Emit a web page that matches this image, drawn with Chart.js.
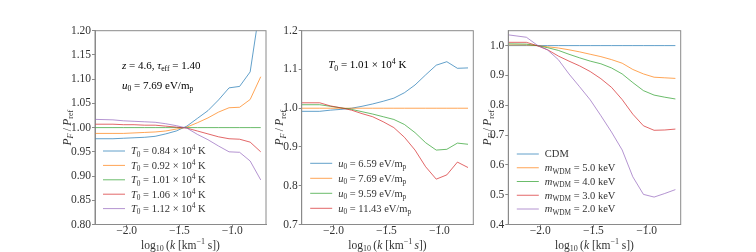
<!DOCTYPE html>
<html lang="en">
<head>
<meta charset="UTF-8">
<title>Flux power ratios</title>
<script src="https://cdn.jsdelivr.net/npm/chart.js"></script>
<style>
    * { margin: 0; padding: 0; box-sizing: border-box; }
    body { width: 756px; height: 252px; background: #fff; position: relative; overflow: hidden; }
    .panel { position: absolute; top: 0; }
    .panel canvas { display: block; }
</style>
</head>
<body>
<div class="panel" style="left:35px"><canvas id="c1" width="235" height="252"></canvas></div>
<div class="panel" style="left:241px"><canvas id="c2" width="236" height="252"></canvas></div>
<div class="panel" style="left:448px"><canvas id="c3" width="237" height="252"></canvas></div>

<script>
// ---- data ----
const logK = [-2.3, -2.13, -2.03, -1.93, -1.83, -1.73, -1.63, -1.53, -1.43, -1.33, -1.23, -1.13, -1.03, -0.93, -0.83, -0.73];
const xTicks = [-2.0, -1.5, -1.0];

// left panel: temperature T0
const t0Labels = ['0.84', '0.92', '1.01', '1.06', '1.12'];
const t0_084 = [0.977, 0.977, 0.978, 0.979, 0.980, 0.982, 0.987, 0.993, 1.003, 1.019, 1.035, 1.057, 1.082, 1.085, 1.115, 1.26];
const t0_092 = [0.988, 0.988, 0.988, 0.989, 0.990, 0.991, 0.993, 0.997, 1.001, 1.010, 1.020, 1.032, 1.041, 1.042, 1.058, 1.105];
const t0_101 = [1.0, 1.0, 1.0, 1.0, 1.0, 1.0, 1.0, 1.0, 1.0, 1.0, 1.0, 1.0, 1.0, 1.0, 1.0, 1.0];
const t0_106 = [1.007, 1.007, 1.006, 1.006, 1.005, 1.005, 1.003, 1.001, 0.999, 0.993, 0.987, 0.981, 0.977, 0.976, 0.970, 0.950];
const t0_112 = [1.017, 1.016, 1.014, 1.013, 1.012, 1.011, 1.008, 1.004, 0.999, 0.986, 0.975, 0.962, 0.950, 0.949, 0.931, 0.892];
const yTicks1 = [0.80, 0.85, 0.90, 0.95, 1.00, 1.05, 1.10, 1.15, 1.20];

// middle panel: heating u0
const u0Labels = ['6.59', '7.69', '9.59', '11.43'];
const u0_659 = [0.992, 0.992, 0.995, 0.997, 1.000, 1.005, 1.011, 1.018, 1.026, 1.040, 1.060, 1.086, 1.111, 1.120, 1.103, 1.104];
const u0_769 = [1.0, 1.0, 1.0, 1.0, 1.0, 1.0, 1.0, 1.0, 1.0, 1.0, 1.0, 1.0, 1.0, 1.0, 1.0, 1.0];
const u0_959 = [1.009, 1.009, 1.005, 1.001, 0.997, 0.991, 0.985, 0.978, 0.971, 0.958, 0.937, 0.911, 0.892, 0.894, 0.910, 0.907];
const u0_1143 = [1.014, 1.014, 1.006, 1.001, 0.995, 0.986, 0.978, 0.965, 0.950, 0.925, 0.892, 0.849, 0.817, 0.828, 0.861, 0.847];
const yTicks2 = [0.7, 0.8, 0.9, 1.0, 1.1, 1.2];

// right panel: warm dark matter mass
const wdmLabels = ['CDM', '5.0', '4.0', '3.0', '2.0'];
const cdm = [1.0, 1.0, 1.0, 1.0, 1.0, 1.0, 1.0, 1.0, 1.0, 1.0, 1.0, 1.0, 1.0, 1.0, 1.0, 1.0];
const wdm5 = [1.002, 1.002, 1.000, 0.996, 0.992, 0.986, 0.979, 0.971, 0.963, 0.953, 0.941, 0.920, 0.905, 0.894, 0.892, 0.890];
const wdm4 = [1.006, 1.005, 1.000, 0.993, 0.984, 0.971, 0.959, 0.948, 0.939, 0.925, 0.905, 0.876, 0.849, 0.834, 0.827, 0.821];
const wdm3 = [1.011, 1.011, 1.000, 0.986, 0.965, 0.948, 0.932, 0.913, 0.889, 0.860, 0.819, 0.770, 0.731, 0.716, 0.717, 0.720];
const wdm2 = [1.036, 1.028, 1.002, 0.985, 0.953, 0.905, 0.862, 0.818, 0.765, 0.710, 0.650, 0.560, 0.501, 0.492, 0.504, 0.517];
const yTicks3 = [0.4, 0.5, 0.6, 0.7, 0.8, 0.9, 1.0];

// ---- styling ----
const FONT = '"Liberation Serif", "DejaVu Serif", serif';
const tab = ['31,119,180', '255,127,14', '44,160,44', '214,39,40', '148,103,189'];
const lineColor = i => 'rgba(' + tab[i] + ',0.7)';
const SPINE = '#8a8a8a';

// rich text: parts = [{t, i: italic, s: 'sub' | 'sup'}]
function partFont(p, size) {
    const s = p.s ? size * 0.7 : size;
    return (p.i ? 'italic ' : '') + s.toFixed(1) + 'px ' + FONT;
}
function richWidth(ctx, parts, size) {
    let w = 0;
    for (const p of parts) { ctx.font = partFont(p, size); w += ctx.measureText(p.t).width; }
    return w;
}
// y is the vertical centre of the main text
function drawRich(ctx, parts, x, y, size, align, color) {
    const w = richWidth(ctx, parts, size);
    let cx = align === 'center' ? x - w / 2 : x;
    const base = y + size * 0.33;
    ctx.fillStyle = color;
    ctx.textAlign = 'left';
    ctx.textBaseline = 'alphabetic';
    for (const p of parts) {
        ctx.font = partFont(p, size);
        let dy = 0;
        if (p.s === 'sub') dy = size * 0.22;
        if (p.s === 'sup') dy = -size * 0.38;
        ctx.fillText(p.t, cx, base + dy);
        cx += ctx.measureText(p.t).width;
    }
}

const decor = {
    id: 'decor',
    afterDraw(chart, args, o) {
        const ctx = chart.ctx;
        const a = chart.chartArea;
        ctx.save();
        // full box
        ctx.strokeStyle = SPINE;
        ctx.lineWidth = 1;
        ctx.strokeRect(a.left, a.top, a.right - a.left, a.bottom - a.top);
        // annotations
        (o.notes || []).forEach(n => drawRich(ctx, n.parts, a.left + n.dx, n.y, 11, 'left', '#000'));
        // legend
        const lg = o.legend;
        chart.data.datasets.forEach((ds, i) => {
            const y = lg.y + i * lg.step;
            ctx.strokeStyle = ds.borderColor;
            ctx.lineWidth = 1;
            ctx.beginPath();
            ctx.moveTo(a.left + lg.dx, y);
            ctx.lineTo(a.left + lg.dx + 22, y);
            ctx.stroke();
            drawRich(ctx, ds.rich, a.left + lg.dx + 28, y, 10.5, 'left', '#333');
        });
        // axis titles
        drawRich(ctx, o.xTitle, (a.left + a.right) / 2, 245, 11.5, 'center', '#333');
        ctx.translate(a.left - o.yTitleGap, (a.top + a.bottom) / 2);
        ctx.rotate(-Math.PI / 2);
        drawRich(ctx, o.yTitle, 0, 0, 11.5, 'center', '#333');
        ctx.restore();
    }
};

const fmt = (v, d) => (v < 0 ? '\u2212' : '') + Math.abs(v).toFixed(d);

const yTitle = [{ t: 'P', i: 1 }, { t: 'F', i: 1, s: 'sub' }, { t: '\u2009/\u2009' }, { t: 'P', i: 1 }, { t: 'ref', s: 'sub' }];
const xTitle = italicS => [{ t: 'log' }, { t: '10', s: 'sub' }, { t: '\u2009(' }, { t: 'k', i: 1 }, { t: ' [km' }, { t: '\u22121', s: 'sup' }, { t: italicS ? '\u2009' : ' ' }, { t: 's', i: italicS ? 1 : 0 }, { t: '])' }];

function makePanel(cfg) {
    const datasets = cfg.series.map((vals, i) => ({
        data: logK.map((x, j) => ({ x: x, y: vals[j] })),
        rich: cfg.labels[i],
        borderColor: lineColor(i),
        borderWidth: 1,
        pointRadius: 0,
        tension: 0,
        clip: 0,
        order: cfg.series.length - i
    }));
    const axisFont = { family: FONT, size: 11.5 };
    new Chart(document.getElementById(cfg.id), {
        type: 'line',
        data: { datasets },
        plugins: [decor],
        options: {
            responsive: false,
            animation: false,
            devicePixelRatio: 1,
            layout: { padding: { top: 30.7, bottom: 0, left: 0, right: cfg.padRight } },
            plugins: {
                legend: { display: false },
                tooltip: { enabled: false },
                decor: { notes: cfg.notes, legend: cfg.legend, xTitle: cfg.xTitle, yTitle: yTitle, yTitleGap: cfg.yTitleGap }
            },
            scales: {
                x: {
                    type: 'linear', min: -2.3, max: -0.68,
                    afterBuildTicks: s => { s.ticks = xTicks.map(v => ({ value: v })); },
                    afterFit: s => { s.height = 27.5; },
                    grid: { drawOnChartArea: false, drawTicks: true, tickLength: 3, color: SPINE },
                    border: { display: true, color: SPINE },
                    ticks: { padding: -3, color: '#333', font: axisFont, maxRotation: 0, autoSkip: false, callback: v => fmt(v, 1) }
                },
                y: {
                    type: 'linear', min: cfg.yMin, max: cfg.yMax,
                    afterBuildTicks: s => { s.ticks = cfg.yTicks.map(v => ({ value: v })); },
                    afterFit: s => { s.width = cfg.yWidth; },
                    grid: { drawOnChartArea: false, drawTicks: true, tickLength: 3, color: SPINE },
                    border: { display: true, color: SPINE },
                    ticks: { padding: 1, color: '#333', font: axisFont, autoSkip: false, callback: v => fmt(v, cfg.yDec) }
                }
            }
        }
    });
}

// panel placement: canvas left (page px) and chart area in page px
function place(cLeft, cWidth, areaLeft, areaRight) {
    return { yWidth: areaLeft - cLeft, padRight: cLeft + cWidth - areaRight };
}

makePanel(Object.assign({
    id: 'c1',
    series: [t0_084, t0_092, t0_101, t0_106, t0_112],
    labels: t0Labels.map(v => [{ t: 'T', i: 1 }, { t: '0', s: 'sub' }, { t: ' = ' + v + ' \u00d7 10' }, { t: '4', s: 'sup' }, { t: ' K' }]),
    yMin: 0.8, yMax: 1.2, yTicks: yTicks1, yDec: 2,
    notes: [
        { dx: 27, y: 65, parts: [{ t: 'z', i: 1 }, { t: ' = 4.6, ' }, { t: '\u03c4', i: 1 }, { t: 'eff', s: 'sub' }, { t: ' = 1.40' }] },
        { dx: 27, y: 85, parts: [{ t: 'u', i: 1 }, { t: '0', s: 'sub' }, { t: ' = 7.69 eV/m' }, { t: 'p', s: 'sub' }] }
    ],
    legend: { dx: 8, y: 151, step: 14.4 },
    xTitle: xTitle(false), yTitleGap: 28
}, place(35, 235, 95, 266)));

makePanel(Object.assign({
    id: 'c2',
    series: [u0_659, u0_769, u0_959, u0_1143],
    labels: u0Labels.map(v => [{ t: 'u', i: 1 }, { t: '0', s: 'sub' }, { t: ' = ' + v + ' eV/m' }, { t: 'p', s: 'sub' }]),
    yMin: 0.7, yMax: 1.2, yTicks: yTicks2, yDec: 1,
    notes: [
        { dx: 26.5, y: 64.5, parts: [{ t: 'T', i: 1 }, { t: '0', s: 'sub' }, { t: ' = 1.01 \u00d7 10' }, { t: '4', s: 'sup' }, { t: ' K' }] }
    ],
    legend: { dx: 8.5, y: 163.3, step: 15 },
    xTitle: xTitle(true), yTitleGap: 22
}, place(241, 236, 301.7, 473.3)));

makePanel(Object.assign({
    id: 'c3',
    series: [cdm, wdm5, wdm4, wdm3, wdm2],
    labels: wdmLabels.map(v => v === 'CDM' ? [{ t: 'CDM' }] : [{ t: 'm', i: 1 }, { t: 'WDM', s: 'sub' }, { t: ' = ' + v + ' keV' }]),
    yMin: 0.4, yMax: 1.05, yTicks: yTicks3, yDec: 1,
    notes: [],
    legend: { dx: 8.5, y: 154, step: 13.75 },
    xTitle: xTitle(false), yTitleGap: 21
}, place(448, 237, 508.3, 680.7)));
</script>
</body>
</html>
